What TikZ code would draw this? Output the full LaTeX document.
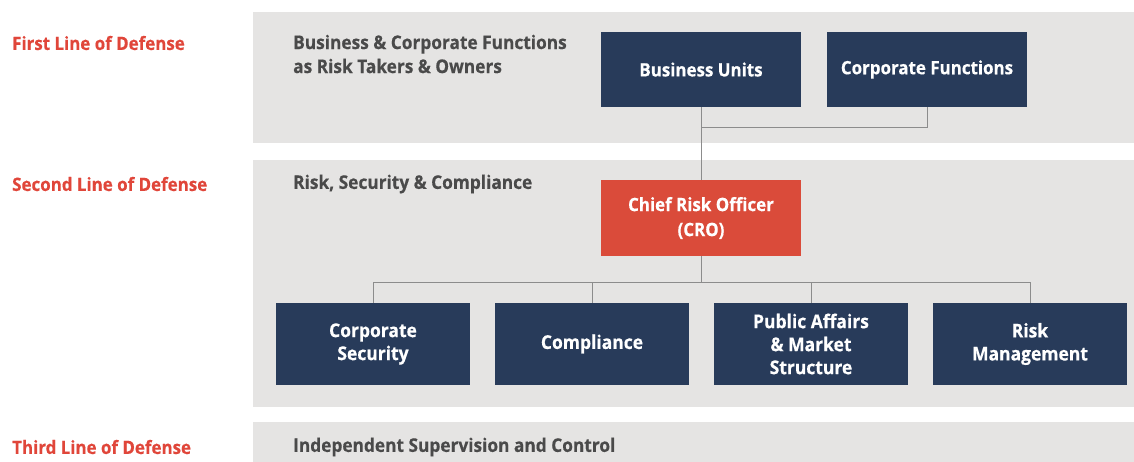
\documentclass[tikz,border=0pt]{standalone}
\usepackage{fontspec}
\setmainfont{Open Sans}[FakeStretch=0.92, BoldFeatures={FakeBold=0.4}]
\definecolor{panel}{HTML}{E5E4E3}
\definecolor{navy}{HTML}{283B5A}
\definecolor{crored}{HTML}{DA4B3A}
\definecolor{lred}{HTML}{E0463A}
\definecolor{ttl}{HTML}{4A4A4A}
\definecolor{conn}{HTML}{8C8C8C}
\tikzset{
  panelbox/.style={fill=panel, draw=none},
  unitbox/.style={fill=navy, draw=none, text=white, font=\bfseries\fontsize{18.4}{25}\selectfont, align=center, minimum width=200pt, minimum height=75pt, inner sep=0pt},
  subbox/.style={fill=navy, draw=none, text=white, font=\bfseries\fontsize{19}{23}\selectfont, align=center, minimum width=194pt, minimum height=82pt, inner sep=0pt},
  crobox/.style={unitbox, fill=crored, minimum height=76pt},
  linelabel/.style={text=lred, font=\bfseries\fontsize{18.4}{24}\selectfont, anchor=west, inner sep=0pt},
  paneltitle/.style={text=ttl, font=\bfseries\fontsize{18.8}{24}\selectfont, anchor=west, align=left, inner sep=0pt},
  link/.style={draw=conn, line width=1pt},
}
\begin{document}
\begin{tikzpicture}[x=1pt,y=-1pt]
\useasboundingbox (0,0) rectangle (1134,462);
% panels
\fill[panelbox] (253,12) rectangle (1134,143);
\fill[panelbox] (253,160) rectangle (1134,407);
\fill[panelbox] (253,422) rectangle (1134,462);
% line labels
\node[linelabel] (l1) at (12,43) {First Line of Defense};
\node[linelabel] (l2) at (12,184) {Second Line of Defense};
\node[linelabel] (l3) at (12,447) {Third Line of Defense};
% panel titles
\node[paneltitle] (t1) at (293,54) {Business \& Corporate Functions\\as Risk Takers \& Owners};
\node[paneltitle] (t2) at (293,184) {Risk, Security \& Compliance};
\node[paneltitle] (t3) at (293,447) {Independent Supervision and Control};
% boxes
\node[unitbox] (bu) at (701,69.5) {Business Units};
\node[unitbox] (cf) at (927,69.5) {Corporate Functions};
\node[crobox] (cro) at (701,218) {Chief Risk Officer\\(CRO)};
\node[subbox] (cs) at (373,344) {Corporate\\Security};
\node[subbox] (co) at (592,344) {Compliance};
\node[subbox] (pa) at (811,344) {Public Affairs\\\& Market\\Structure};
\node[subbox] (rm) at (1030,344) {Risk\\Management};
% connectors
\coordinate (j1) at (701,128);
\coordinate (bus) at (701,282);
\draw[link] (bu.south) -- (cro.north);
\draw[link] (cf.south) |- (j1);
\draw[link] (cro.south) -- (bus);
\draw[link] (bus) -| (cs.north);
\draw[link] (bus) -| (co.north);
\draw[link] (bus) -| (pa.north);
\draw[link] (bus) -| (rm.north);
\end{tikzpicture}
\end{document}
